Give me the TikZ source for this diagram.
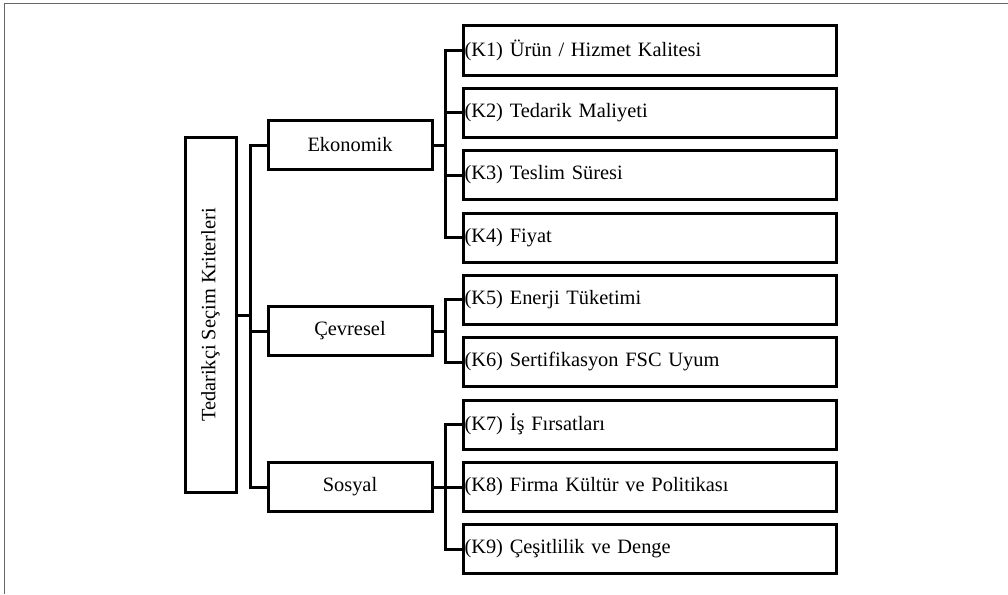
\documentclass[tikz,border=0pt]{standalone}
\usepackage{fontspec}
\setmainfont{Liberation Serif}
\begin{document}
\begin{tikzpicture}[x=1pt,y=-1pt,
  every node/.style={font=\fontsize{20.4}{24}\selectfont},
  boxline/.style={draw=black,line width=3pt,line join=miter},
  mainbox/.style={boxline,minimum width=51pt,minimum height=355pt,inner sep=0pt},
  midbox/.style={boxline,minimum width=164pt,minimum height=49pt,inner sep=0pt},
  kbox/.style={boxline,minimum height=49pt,text width=370pt,align=left,inner xsep=1.5pt,inner ysep=0pt},
  conn/.style={line width=3pt,line join=miter}]
\useasboundingbox (0,0) rectangle (1008,594);
\draw[line width=1.5pt,color=black!60] (4.5,594) -- (4.5,3.5) -- (1008,3.5);
\node[mainbox] (main) at (210.5,315) {\rotatebox{90}{Tedarikçi Seçim Kriterleri}};
\node[midbox] (eko) at (350,145) {Ekonomik};
\node[midbox] (cev) at (350,331) {Çevresel};
\node[midbox] (sos) at (350,487) {Sosyal};
\node[kbox] (k1) at (649.5,50.5) {(K1) Ürün / Hizmet Kalitesi};
\node[kbox] (k2) at (649.5,112.5) {(K2) Tedarik Maliyeti};
\node[kbox] (k3) at (649.5,175) {(K3) Teslim Süresi};
\node[kbox] (k4) at (649.5,237.5) {(K4) Fiyat};
\node[kbox] (k5) at (649.5,299.5) {(K5) Enerji Tüketimi};
\node[kbox] (k6) at (649.5,362) {(K6) Sertifikasyon FSC Uyum};
\node[kbox] (k7) at (649.5,424.5) {(K7) İş Fırsatları};
\node[kbox] (k8) at (649.5,487) {(K8) Firma Kültür ve Politikası};
\node[kbox] (k9) at (649.5,549) {(K9) Çeşitlilik ve Denge};
\foreach \m in {eko,cev,sos}
  \draw[conn] (main.east) -| ([xshift=-16pt]\m.west) -- (\m.west);
\foreach \k in {k1,k2,k3,k4}
  \draw[conn] (eko.east) -| ([xshift=-16pt]\k.west) -- (\k.west);
\foreach \k in {k5,k6}
  \draw[conn] (cev.east) -| ([xshift=-16pt]\k.west) -- (\k.west);
\foreach \k in {k7,k8,k9}
  \draw[conn] (sos.east) -| ([xshift=-16pt]\k.west) -- (\k.west);
\end{tikzpicture}
\end{document}
